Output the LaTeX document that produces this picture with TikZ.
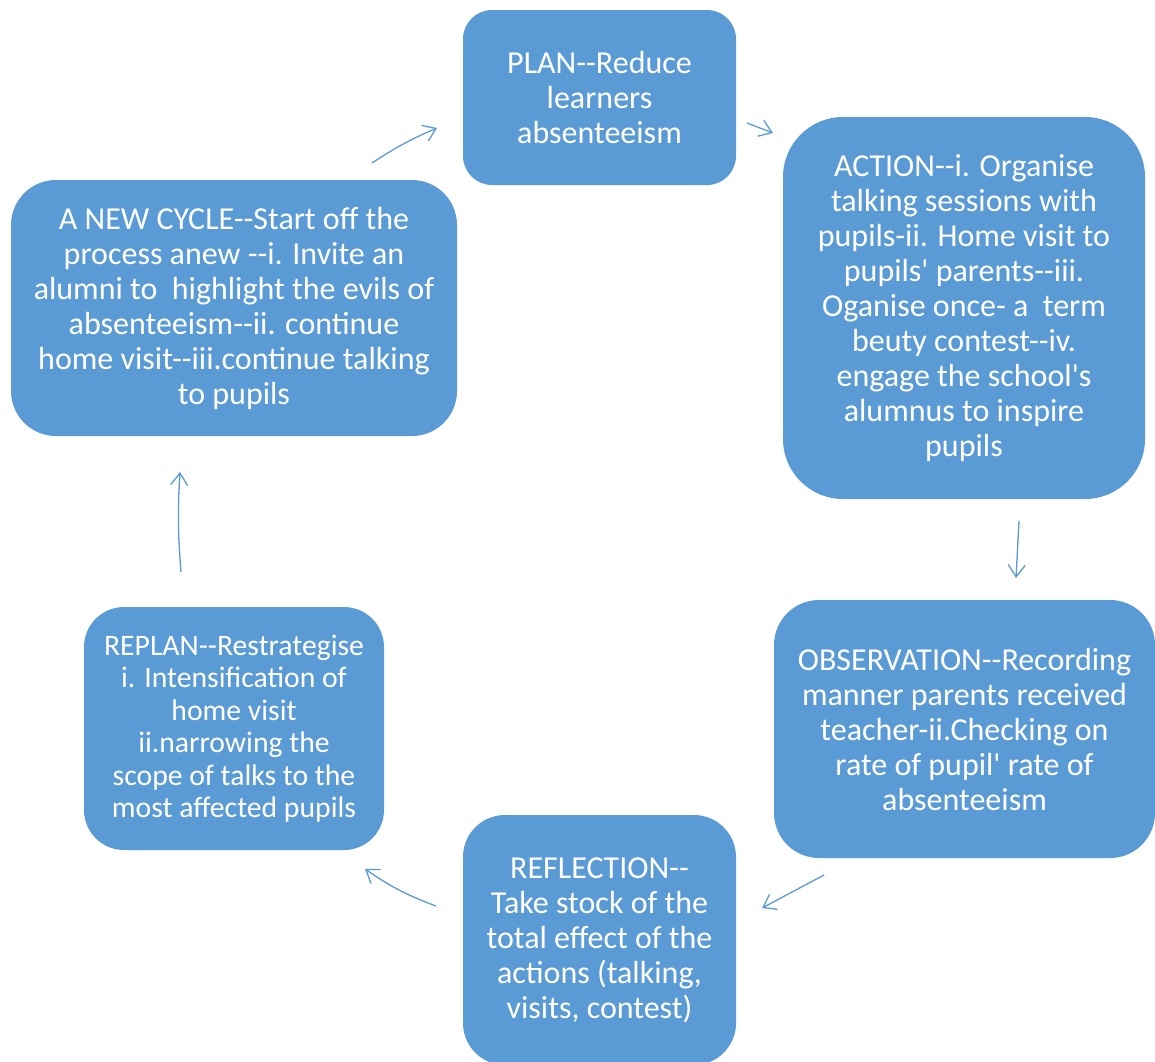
\documentclass[tikz,border=0pt]{standalone}
\usepackage{fontspec}
\setmainfont{Carlito}[Ligatures=TeXOff]
\usetikzlibrary{arrows.meta}
\definecolor{boxblue}{HTML}{5B9BD5}
\tikzset{
  stage/.style={fill=boxblue, draw=none, text=white, align=center, inner sep=0pt,
    font=\fontsize{32}{35}\selectfont},
  cyclearrow/.style={draw=boxblue, line width=1.3pt, -{Straight Barb[length=12pt,width=17pt]}}
}
\begin{document}
\begin{tikzpicture}[x=1pt,y=-1pt]
\useasboundingbox (0,0) rectangle (1155,1061);
\fill[white] (0,0) rectangle (1155,1061);
\begin{scope}
\clip (0,0) rectangle (1155,1061);
\node[stage, minimum width=273pt, minimum height=175pt, rounded corners=29pt] (plan) at (599.5,97.5)
  {PLAN--Reduce\\learners\\absenteeism};
\node[stage, minimum width=362pt, minimum height=382pt, rounded corners=60pt] (action) at (964,308)
  {ACTION--i. Organise\\talking sessions with\\pupils-ii. Home visit to\\pupils' parents--iii.\\Oganise once- a\ \ term\\beuty contest--iv.\\engage the school's\\alumnus to inspire\\pupils};
\node[stage, minimum width=381pt, minimum height=258pt, rounded corners=45pt] (obs) at (964.5,729)
  {OBSERVATION--Recording\\manner parents received\\teacher-ii.Checking on\\rate of pupil' rate of\\absenteeism};
\node[stage, minimum width=273pt, minimum height=250pt, rounded corners=42pt] (refl) at (599.5,940)
  {REFLECTION--\\Take stock of the\\total effect of the\\actions (talking,\\visits, contest)};
\node[stage, minimum width=300pt, minimum height=243pt, rounded corners=40pt,
  font=\fontsize{29.7}{32.5}\selectfont] (replan) at (234,728.5)
  {REPLAN--Restrategise\\i. Intensification of\\home visit\\ii.narrowing the\\scope of talks to the\\most affected pupils};
\node[stage, minimum width=446pt, minimum height=256pt, rounded corners=45pt] (newc) at (234,308)
  {A NEW CYCLE--Start off the\\process anew --i. Invite an\\alumni to\ \ highlight the evils of\\absenteeism--ii. continue\\home visit--iii.continue talking\\to pupils};
\end{scope}
\coordinate (a1s) at (372,163);  \coordinate (a1e) at (437,128);
\coordinate (a2s) at (747,123);  \coordinate (a2e) at (773,133);
\coordinate (a3s) at (1019,521); \coordinate (a3e) at (1016,578);
\coordinate (a4s) at (824,875);  \coordinate (a4e) at (762,908);
\coordinate (a5s) at (436,906);  \coordinate (a5e) at (365,869);
\coordinate (a6s) at (181,572);  \coordinate (a6e) at (180,472);
\draw[cyclearrow] (a1s) to[bend left=5] (a1e);
\draw[cyclearrow] (a2s) -- (a2e);
\draw[cyclearrow] (a3s) -- (a3e);
\draw[cyclearrow] (a4s) -- (a4e);
\draw[cyclearrow] (a5s) to[bend left=7] (a5e);
\draw[cyclearrow] (a6s) to[bend left=4] (a6e);
\end{tikzpicture}
\end{document}
